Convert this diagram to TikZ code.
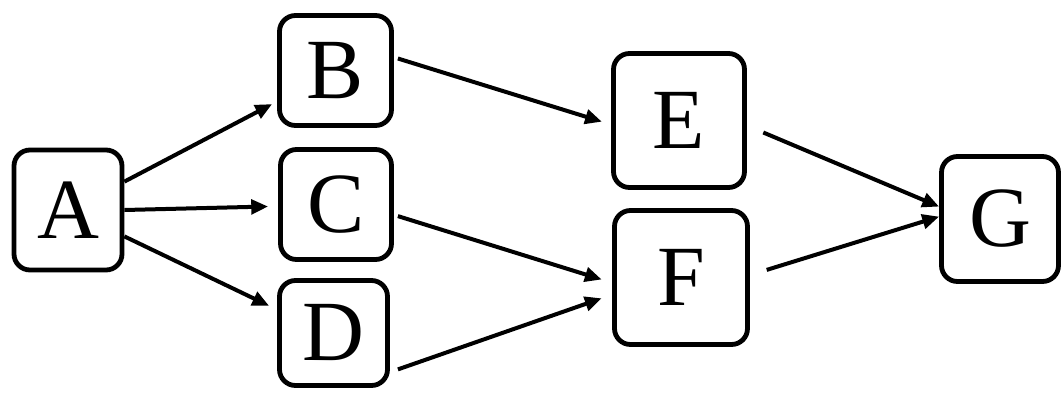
\documentclass[tikz,border=0pt]{standalone}
\usepackage{fontspec}
\setmainfont{Liberation Serif}
\usetikzlibrary{arrows.meta}

\tikzset{
  task/.style={draw, line width=0.12cm, rounded corners=0.4cm, inner sep=0pt,
    font=\fontsize{61}{61}\selectfont},
  dep/.style={line width=0.1cm, -{Triangle[length=0.42cm,width=0.36cm]}}
}

\begin{document}
\begin{tikzpicture}
  \useasboundingbox (0,0) rectangle (26.525,9.8);

  % (name, width, height, label)
  \node[task, minimum width=2.7cm, minimum height=3.0cm] (A) at (1.7,4.55) {A};
  \node[task, minimum width=2.8cm, minimum height=2.75cm] (B) at (8.3875,8.0375) {B};
  \node[task, minimum width=2.775cm, minimum height=2.75cm] (C) at (8.4,4.6875) {C};
  \node[task, minimum width=2.7cm, minimum height=2.625cm] (D) at (8.3375,1.475) {D};
  \node[task, minimum width=3.275cm, minimum height=3.35cm] (E) at (16.975,6.7875) {E};
  \node[task, minimum width=3.325cm, minimum height=3.35cm] (F) at (17.025,2.8625) {F};
  \node[task, minimum width=2.925cm, minimum height=3.125cm] (G) at (25.0,4.325) {G};

  \draw[dep] ([yshift=0.71cm]A.east) -- ([xshift=-0.125cm,yshift=-0.84cm]B.west);
  \draw[dep] (A.east) -- ([xshift=-0.25cm,yshift=-0.05cm]C.west);
  \draw[dep] ([yshift=-0.66cm]A.east) -- ([xshift=-0.2cm,yshift=0.68cm]D.west);

  \draw[dep] ([xshift=0.1cm,yshift=0.3cm]B.east) -- ([xshift=-0.23cm,yshift=-0.03cm]E.west);
  \draw[dep] ([xshift=0.1cm,yshift=-0.29cm]C.east) -- ([xshift=-0.26cm,yshift=-0.05cm]F.west);
  \draw[dep] ([xshift=0.2cm,yshift=-0.91cm]D.east) -- ([xshift=-0.26cm,yshift=-0.52cm]F.west);

  \draw[dep] ([xshift=0.41cm,yshift=-0.3cm]E.east) -- ([yshift=0.31cm]G.west);
  \draw[dep] ([xshift=0.42cm,yshift=0.19cm]F.east) -- ([yshift=0.06cm]G.west);
\end{tikzpicture}
\end{document}
